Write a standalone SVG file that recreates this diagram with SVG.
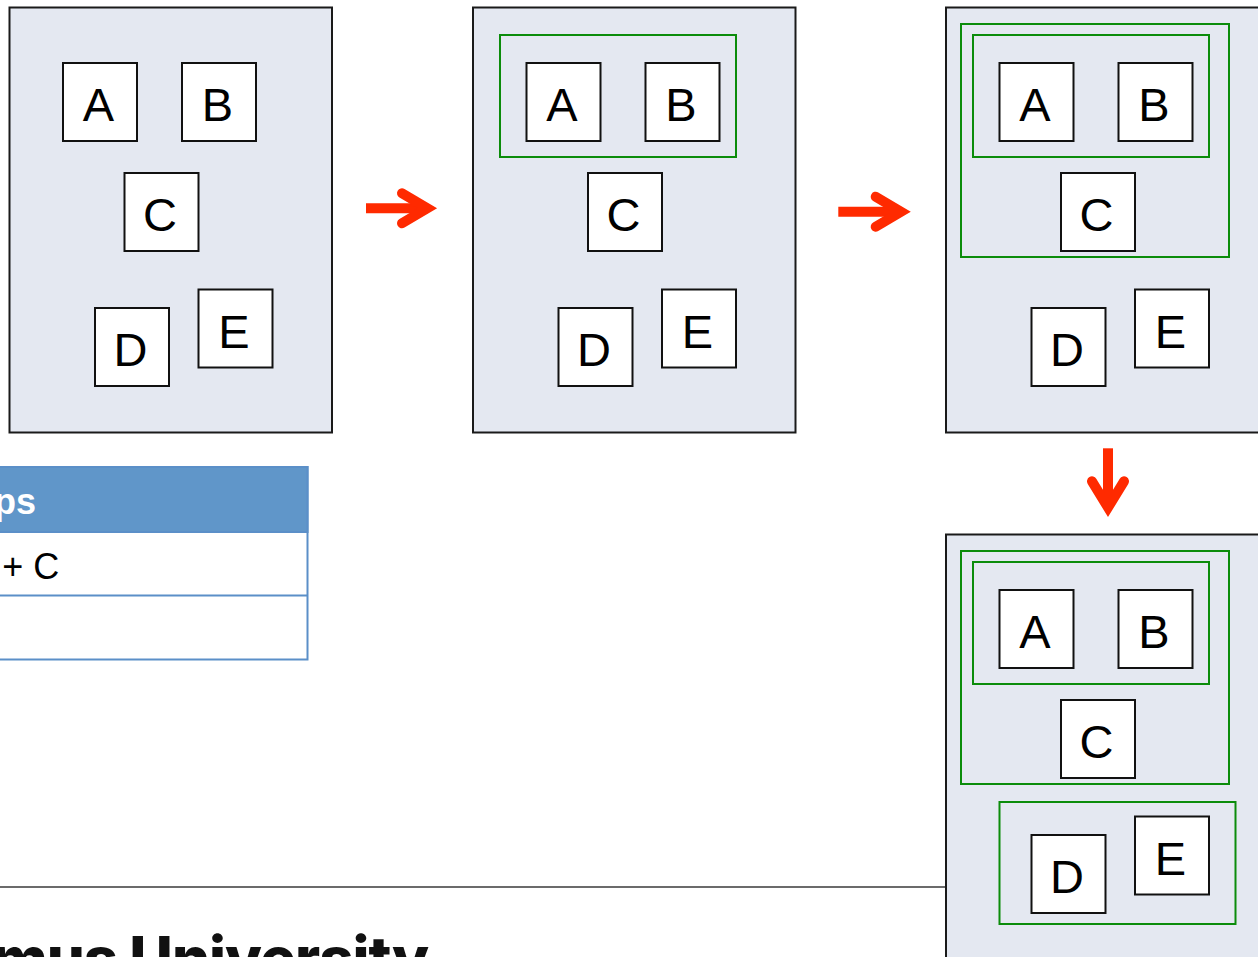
<svg xmlns="http://www.w3.org/2000/svg" width="1258" height="957" viewBox="0 0 1258 957">
  <style>
    .panel { fill: #e4e8f1; stroke: #1a1a1a; stroke-width: 2; }
    .box { fill: #ffffff; stroke: #111111; stroke-width: 2; }
    .grp { fill: none; stroke: #0b8c0b; stroke-width: 2; }
    .lbl { font-family: "Liberation Sans", Arial, sans-serif; font-size: 47px; fill: #000; text-anchor: middle; }
    .arrow { fill: none; stroke: #ff2a00; stroke-width: 10; }
    .head { stroke-linecap: round; stroke-linejoin: miter; stroke-miterlimit: 10; }
    .cell { font-family: "Liberation Sans", Arial, sans-serif; font-size: 36px; fill: #000; }
    .hdr { font-family: "Liberation Sans", Arial, sans-serif; font-size: 36px; font-weight: bold; fill: #ffffff; }
  </style>
  <defs>
    <!-- the five lettered boxes, positioned relative to a panel's top-left corner -->
    <g id="boxes">
      <g id="box-a"><rect class="box" x="53.5" y="55.5" width="74" height="78"/><text class="lbl" x="89" y="113.5">A</text></g>
      <g id="box-b"><rect class="box" x="172.5" y="55.5" width="74" height="78"/><text class="lbl" x="208" y="113.5">B</text></g>
      <g id="box-c"><rect class="box" x="115" y="165.5" width="74" height="78"/><text class="lbl" x="150.5" y="223.5">C</text></g>
      <g id="box-d"><rect class="box" x="85.5" y="300.5" width="74" height="78"/><text class="lbl" x="121" y="358.5">D</text></g>
      <g id="box-e"><rect class="box" x="189" y="282" width="74" height="78"/><text class="lbl" x="224.5" y="340">E</text></g>
    </g>
  </defs>

  <!-- footer rule and title -->
  <line x1="0" y1="887" x2="946" y2="887" stroke="#3a3a3a" stroke-width="1.5"/>
  <text x="428" y="980" text-anchor="end" font-family="Inter, 'Liberation Sans', sans-serif" font-weight="800" font-size="60" letter-spacing="-1" fill="#111">mus University</text>

  <!-- table -->
  <g id="table">
    <rect x="-10" y="467" width="317.5" height="192.5" fill="#ffffff" stroke="#5b8fc8" stroke-width="2"/>
    <rect x="-10" y="467" width="317.5" height="65" fill="#6096c9" stroke="#5b8fc8" stroke-width="2"/>
    <line x1="-10" y1="595.5" x2="307.5" y2="595.5" stroke="#5b8fc8" stroke-width="2"/>
    <text class="hdr" x="-6" y="514">ps</text>
    <text class="cell" x="2.3" y="579">+ C</text>
  </g>

  <!-- step 1: ungrouped -->
  <g id="panel-1" transform="translate(9.5,7.5)">
    <rect class="panel" x="0" y="0" width="322.5" height="425"/>
    <use href="#boxes"/>
  </g>

  <!-- step 2: A and B grouped -->
  <g id="panel-2" transform="translate(473,7.5)">
    <rect class="panel" x="0" y="0" width="322.5" height="425"/>
    <rect class="grp" x="27" y="27.5" width="236" height="122"/>
    <use href="#boxes"/>
  </g>

  <!-- step 3: (A B) grouped with C -->
  <g id="panel-3" transform="translate(946,7.5)">
    <rect class="panel" x="0" y="0" width="322.5" height="425"/>
    <rect class="grp" x="15" y="16.5" width="268" height="233"/>
    <rect class="grp" x="27" y="27.5" width="236" height="122"/>
    <use href="#boxes"/>
  </g>

  <!-- step 4: D and E grouped as well -->
  <g id="panel-4" transform="translate(946,534.5)">
    <rect class="panel" x="0" y="0" width="322.5" height="425"/>
    <rect class="grp" x="15" y="16.5" width="268" height="233"/>
    <rect class="grp" x="27" y="27.5" width="236" height="122"/>
    <rect class="grp" x="53.5" y="267.5" width="236" height="122"/>
    <use href="#boxes"/>
  </g>

  <!-- arrows between steps -->
  <g id="connectors">
    <g id="arrow-1-2">
      <line class="arrow" x1="366" y1="208.3" x2="428" y2="208.3"/>
      <polyline class="arrow head" points="402,193.3 427.3,208.3 402,223.3"/>
    </g>
    <g id="arrow-2-3">
      <line class="arrow" x1="838.3" y1="211.7" x2="901" y2="211.7"/>
      <polyline class="arrow head" points="875.7,196.7 901,211.7 875.7,226.7"/>
    </g>
    <g id="arrow-3-4">
      <line class="arrow" x1="1108" y1="448.3" x2="1108" y2="508"/>
      <polyline class="arrow head" points="1092,481.3 1108,507.5 1124,481.3"/>
    </g>
  </g>
</svg>
